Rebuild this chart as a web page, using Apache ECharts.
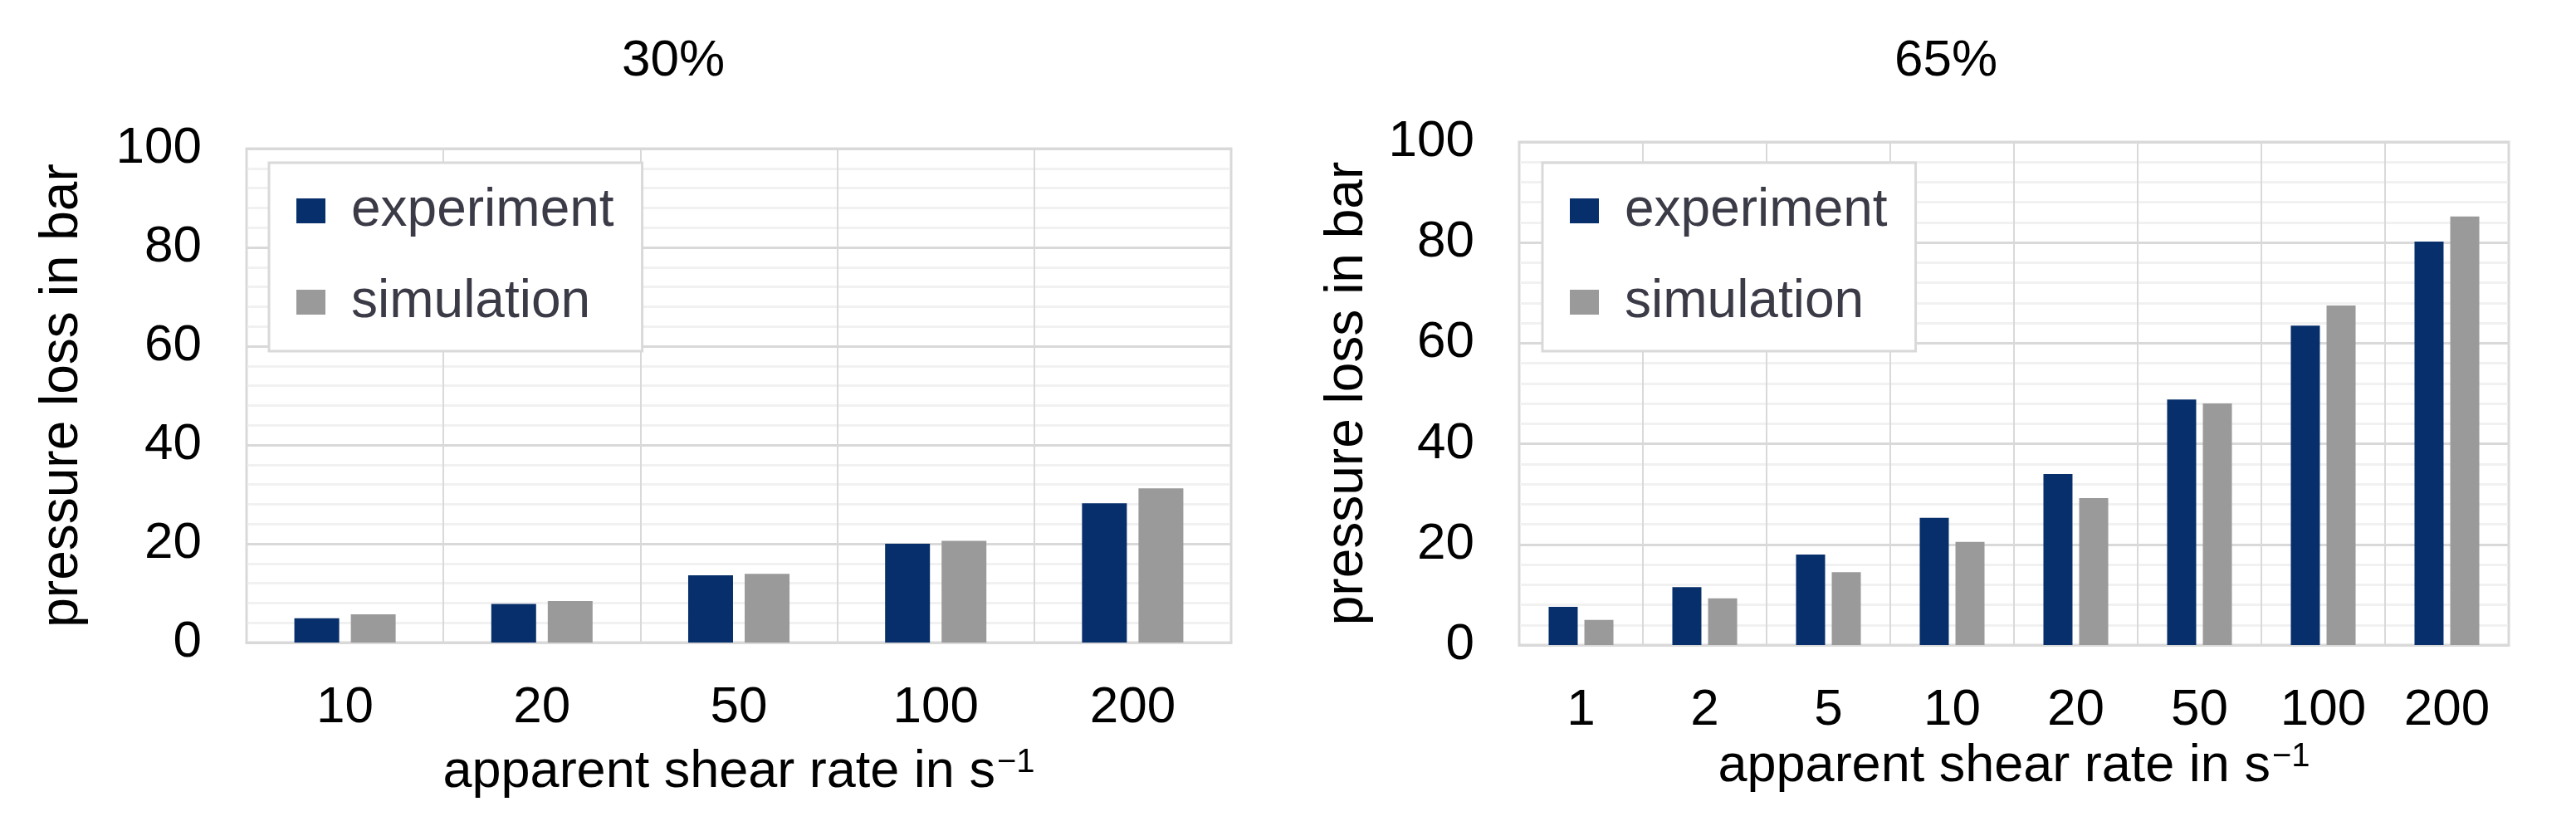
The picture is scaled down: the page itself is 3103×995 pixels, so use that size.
<!DOCTYPE html>
<html>
<head>
<meta charset="utf-8">
<script src="https://cdn.jsdelivr.net/npm/echarts@6/dist/echarts.min.js"></script>
<style>
html,body{margin:0;padding:0;background:#fff;}
#chart{width:3103px;height:995px;}
</style>
</head>
<body>
<div id="chart"></div>
<script>
// ---- data ----
const titles = ['30%', '65%'];
const seriesNames = ['experiment', 'simulation'];
const categories30 = ['10', '20', '50', '100', '200'];
const experiment30 = [4.9, 7.8, 13.6, 20.0, 28.2];
const simulation30 = [5.7, 8.4, 13.9, 20.6, 31.2];
const categories65 = ['1', '2', '5', '10', '20', '50', '100', '200'];
const experiment65 = [7.6, 11.5, 18.0, 25.3, 34.0, 48.8, 63.5, 80.2];
const simulation65 = [5.0, 9.3, 14.5, 20.5, 29.2, 48.0, 67.5, 85.2];
const yTicks = [0, 20, 40, 60, 80, 100];
const yAxisTitle = 'pressure loss in bar';
const xAxisTitle = 'apparent shear rate in s{sup|\u22121}';

const FONT = 'Liberation Sans, Arial, sans-serif';
const C_EXP = '#072f6b';
const C_SIM = '#9a9a9b';
const GRIDC = '#d9d9d9';
const MINORC = '#f1f1f1';

function xAxisCfg(gridIndex, cats, nameGap) {
  return {
    type: 'category', gridIndex: gridIndex, data: cats,
    axisLine: {show: true, lineStyle: {color: GRIDC, width: 3}},
    axisTick: {show: false},
    axisLabel: {fontFamily: FONT, fontSize: 62, color: '#000', margin: 48, interval: 0},
    splitLine: {show: true, interval: 0, lineStyle: {color: GRIDC, width: 2}},
    name: xAxisTitle, nameLocation: 'middle', nameGap: nameGap,
    nameTextStyle: {fontFamily: FONT, fontSize: 63, color: '#000',
      rich: {sup: {fontFamily: FONT, fontSize: 40, color: '#000', verticalAlign: 'top', lineHeight: 40, padding: [0, 0, 18, 2]}}}
  };
}
function yAxisCfg(gridIndex, nameGap) {
  return {
    type: 'value', gridIndex: gridIndex, min: yTicks[0], max: yTicks[yTicks.length - 1], interval: 20,
    axisLine: {show: false}, axisTick: {show: false},
    axisLabel: {fontFamily: FONT, fontSize: 62, color: '#000', margin: 54},
    splitLine: {show: true, lineStyle: {color: GRIDC, width: 3}},
    minorTick: {show: false, splitNumber: 5},
    minorSplitLine: {show: true, lineStyle: {color: MINORC, width: 3}},
    name: yAxisTitle, nameLocation: 'middle', nameGap: nameGap,
    nameTextStyle: {fontFamily: FONT, fontSize: 64, color: '#000'}
  };
}
function legendCfg(left, top) {
  return {
    data: seriesNames, orient: 'vertical', left: left, top: top,
    backgroundColor: '#fff', borderColor: GRIDC, borderWidth: 3,
    padding: [26, 34, 27, 33],
    itemWidth: 35, itemHeight: 30, itemGap: 46, icon: 'rect',
    textStyle: {fontFamily: FONT, fontSize: 64, color: '#3b3b47', padding: [0, 0, 0, 26]}
  };
}

const chart = echarts.init(document.getElementById('chart'), null, {renderer: 'canvas'});
chart.setOption({
  backgroundColor: '#fff',
  animation: false,
  title: [
    {text: titles[0], left: 744, top: 38, textStyle: {fontFamily: FONT, fontSize: 62, fontWeight: 'normal', color: '#000'}},
    {text: titles[1], left: 2277, top: 38, textStyle: {fontFamily: FONT, fontSize: 62, fontWeight: 'normal', color: '#000'}}
  ],
  legend: [legendCfg(324, 196), legendCfg(1858, 196)],
  grid: [
    {left: 297, top: 179, width: 1186, height: 595, show: true, borderColor: GRIDC, borderWidth: 3, backgroundColor: '#fff'},
    {left: 1830, top: 171, width: 1192, height: 606, show: true, borderColor: GRIDC, borderWidth: 3, backgroundColor: '#fff'}
  ],
  xAxis: [xAxisCfg(0, categories30, 125), xAxisCfg(1, categories65, 110)],
  yAxis: [yAxisCfg(0, 190), yAxisCfg(1, 175)],
  series: [
    {name: seriesNames[0], type: 'bar', xAxisIndex: 0, yAxisIndex: 0, data: experiment30, barWidth: 54, barGap: '26%', itemStyle: {color: C_EXP}},
    {name: seriesNames[1], type: 'bar', xAxisIndex: 0, yAxisIndex: 0, data: simulation30, barWidth: 54, barGap: '26%', itemStyle: {color: C_SIM}},
    {name: seriesNames[0], type: 'bar', xAxisIndex: 1, yAxisIndex: 1, data: experiment65, barWidth: 35, barGap: '23%', itemStyle: {color: C_EXP}},
    {name: seriesNames[1], type: 'bar', xAxisIndex: 1, yAxisIndex: 1, data: simulation65, barWidth: 35, barGap: '23%', itemStyle: {color: C_SIM}}
  ]
});
</script>
</body>
</html>
